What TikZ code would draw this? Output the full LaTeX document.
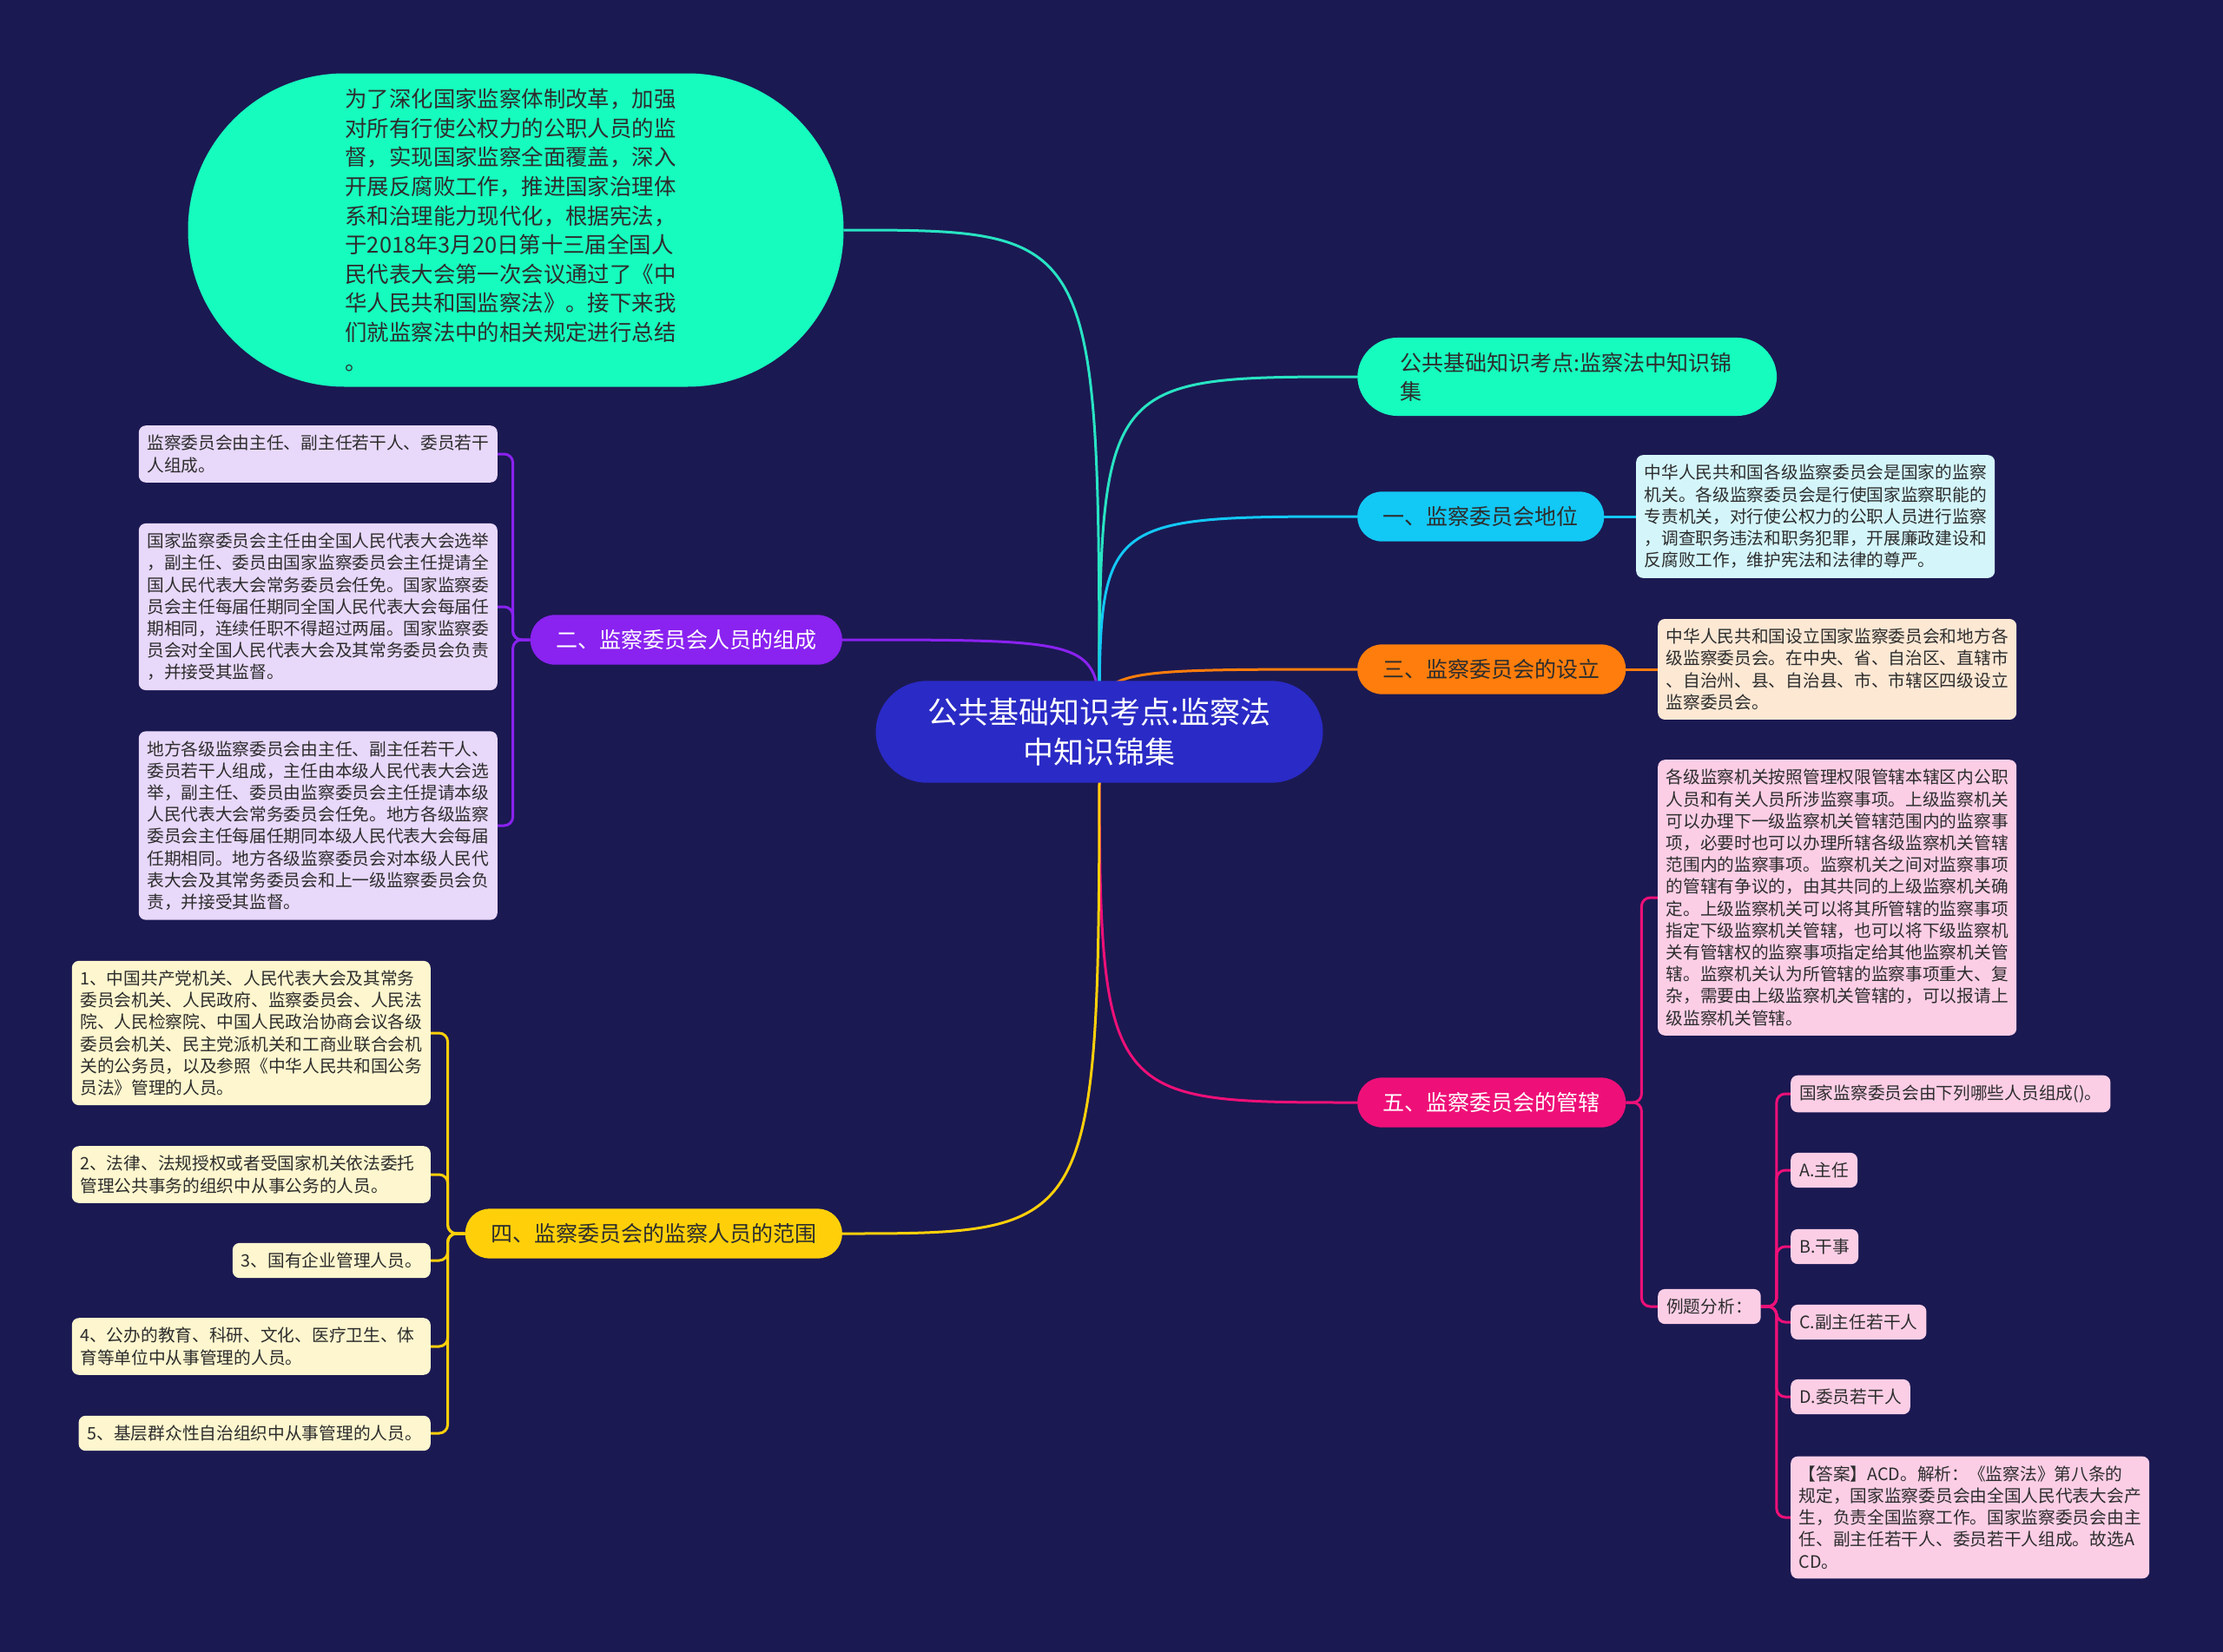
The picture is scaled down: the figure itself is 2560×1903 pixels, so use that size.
\documentclass[tikz,border=0pt]{standalone}
\usepackage{fontspec}
\setmainfont{Noto Sans CJK SC}
\usepackage{tikz}

\definecolor{fond}{RGB}{27,25,82}
\definecolor{encre}{RGB}{45,45,45}
\definecolor{racine}{RGB}{42,42,198}
\definecolor{aqua}{RGB}{22,252,190}
\definecolor{aqualien}{RGB}{40,228,195}
\definecolor{ciel}{RGB}{18,200,245}
\definecolor{orange}{RGB}{255,125,12}
\definecolor{rose}{RGB}{238,16,120}
\definecolor{violet}{RGB}{138,34,240}
\definecolor{jaune}{RGB}{255,208,10}
\definecolor{cielclair}{RGB}{212,246,251}
\definecolor{orangeclair}{RGB}{253,232,212}
\definecolor{roseclair}{RGB}{252,206,230}
\definecolor{violetclair}{RGB}{232,216,250}
\definecolor{jauneclair}{RGB}{253,246,206}

\pgfdeclarelayer{fondcouche}
\pgfsetlayers{fondcouche,main}

\begin{document}
\begin{tikzpicture}[
    x=1pt, y=-1pt,
    every node/.style={text=encre},
    petit/.style={font=\fontsize{19.7pt}{25.2pt}\selectfont},
    carte/.style={petit, rounded corners=8pt, inner xsep=10pt, inner ysep=11pt, align=left},
    feuille/.style={carte, inner xsep=9.5pt, text width=394pt},
    branche/.style={font=\fontsize{25pt}{33pt}\selectfont, rounded corners=28pt, inner xsep=29.5pt, inner ysep=17pt},
    lien/.style={line width=3pt},
    crochet/.style={lien, rounded corners=10pt},
  ]
  % le sujet central
  \node[fill=racine, text=white, rounded corners=59pt, minimum width=515pt, inner ysep=19.5pt,
        align=center, font=\fontsize{35pt}{46pt}\selectfont] (root) at (1266,843)
    {公共基础知识考点:监察法\\中知识锦集};

  \node[fill=aqua, rounded corners=180pt, minimum width=755pt, minimum height=361pt, inner sep=0pt,
        text width=393pt, align=left, font=\fontsize{25.4pt}{33.6pt}\selectfont] (intro) at (594,265)
    {为了深化国家监察体制改革，加强\\对所有行使公权力的公职人员的监\\督，实现国家监察全面覆盖，深入\\开展反腐败工作，推进国家治理体\\系和治理能力现代化，根据宪法，\\于2018年3月20日第十三届全国人\\民代表大会第一次会议通过了《中\\华人民共和国监察法》。接下来我\\们就监察法中的相关规定进行总结\\。};

  \node[branche, fill=aqua, rounded corners=46pt, inner xsep=49.5pt, text width=384pt, align=left,
        anchor=west] (titre) at (1563,434)
    {公共基础知识考点:监察法中知识锦\\集};

  % branches de droite
  \node[branche, fill=ciel, anchor=west] (b1) at (1563,595) {一、监察委员会地位};
  \node[feuille, fill=cielclair, anchor=west] (b1a) at (1884,595)
    {中华人民共和国各级监察委员会是国家的监察\\机关。各级监察委员会是行使国家监察职能的\\专责机关，对行使公权力的公职人员进行监察\\，调查职务违法和职务犯罪，开展廉政建设和\\反腐败工作，维护宪法和法律的尊严。};

  \node[branche, fill=orange, anchor=west] (b3) at (1563,771) {三、监察委员会的设立};
  \node[feuille, fill=orangeclair, anchor=west] (b3a) at (1909,771)
    {中华人民共和国设立国家监察委员会和地方各\\级监察委员会。在中央、省、自治区、直辖市\\、自治州、县、自治县、市、市辖区四级设立\\监察委员会。};

  \node[branche, fill=rose, text=white, anchor=west] (b5) at (1563,1270) {五、监察委员会的管辖};
  \node[feuille, fill=roseclair, anchor=west] (b5a) at (1909,1034)
    {各级监察机关按照管理权限管辖本辖区内公职\\人员和有关人员所涉监察事项。上级监察机关\\可以办理下一级监察机关管辖范围内的监察事\\项，必要时也可以办理所辖各级监察机关管辖\\范围内的监察事项。监察机关之间对监察事项\\的管辖有争议的，由其共同的上级监察机关确\\定。上级监察机关可以将其所管辖的监察事项\\指定下级监察机关管辖，也可以将下级监察机\\关有管辖权的监察事项指定给其他监察机关管\\辖。监察机关认为所管辖的监察事项重大、复\\杂，需要由上级监察机关管辖的，可以报请上\\级监察机关管辖。};
  \node[carte, fill=roseclair, anchor=west] (b5b) at (1909,1505) {例题分析：};

  \node[carte, fill=roseclair, anchor=west] (q0) at (2062,1260) {国家监察委员会由下列哪些人员组成()。};
  \node[carte, fill=roseclair, anchor=west] (qa) at (2062,1348) {A.主任};
  \node[carte, fill=roseclair, anchor=west] (qb) at (2062,1436) {B.干事};
  \node[carte, fill=roseclair, anchor=west] (qc) at (2062,1523) {C.副主任若干人};
  \node[carte, fill=roseclair, anchor=west] (qd) at (2062,1609) {D.委员若干人};
  \node[feuille, fill=roseclair, anchor=west] (qr) at (2062,1748)
    {【答案】ACD。解析：《监察法》第八条的\\规定，国家监察委员会由全国人民代表大会产\\生，负责全国监察工作。国家监察委员会由主\\任、副主任若干人、委员若干人组成。故选A\\CD。};

  % branches de gauche
  \node[branche, fill=violet, text=white, anchor=east] (b2) at (970,737) {二、监察委员会人员的组成};
  \node[feuille, fill=violetclair, anchor=east] (p1) at (573,523)
    {监察委员会由主任、副主任若干人、委员若干\\人组成。};
  \node[feuille, fill=violetclair, anchor=east] (p2) at (573,699)
    {国家监察委员会主任由全国人民代表大会选举\\，副主任、委员由国家监察委员会主任提请全\\国人民代表大会常务委员会任免。国家监察委\\员会主任每届任期同全国人民代表大会每届任\\期相同，连续任职不得超过两届。国家监察委\\员会对全国人民代表大会及其常务委员会负责\\，并接受其监督。};
  \node[feuille, fill=violetclair, anchor=east] (p3) at (573,951)
    {地方各级监察委员会由主任、副主任若干人、\\委员若干人组成，主任由本级人民代表大会选\\举，副主任、委员由监察委员会主任提请本级\\人民代表大会常务委员会任免。地方各级监察\\委员会主任每届任期同本级人民代表大会每届\\任期相同。地方各级监察委员会对本级人民代\\表大会及其常务委员会和上一级监察委员会负\\责，并接受其监督。};

  \node[branche, fill=jaune, anchor=east] (b4) at (970,1421) {四、监察委员会的监察人员的范围};
  \node[feuille, fill=jauneclair, anchor=east] (y1) at (496,1190)
    {1、中国共产党机关、人民代表大会及其常务\\委员会机关、人民政府、监察委员会、人民法\\院、人民检察院、中国人民政治协商会议各级\\委员会机关、民主党派机关和工商业联合会机\\关的公务员，以及参照《中华人民共和国公务\\员法》管理的人员。};
  \node[feuille, fill=jauneclair, anchor=east] (y2) at (496,1353)
    {2、法律、法规授权或者受国家机关依法委托\\管理公共事务的组织中从事公务的人员。};
  \node[carte, fill=jauneclair, anchor=east] (y3) at (496,1452) {3、国有企业管理人员。};
  \node[feuille, fill=jauneclair, anchor=east] (y4) at (496,1551)
    {4、公办的教育、科研、文化、医疗卫生、体\\育等单位中从事管理的人员。};
  \node[carte, fill=jauneclair, anchor=east] (y5) at (496,1651) {5、基层群众性自治组织中从事管理的人员。};

  \begin{pgfonlayer}{fondcouche}
    \fill[fond] (0,0) rectangle (2560,1903);
    % courbes depuis le centre
    \draw[lien, aqualien] (root.center) .. controls (root.center |- intro.east) .. (intro.east);
    \draw[lien, aqualien] (root.center) .. controls (root.center |- titre.west) .. (titre.west);
    \draw[lien, ciel] (root.center) .. controls (root.center |- b1.west) .. (b1.west);
    \draw[lien, orange] (root.center) .. controls (root.center |- b3.west) .. (b3.west);
    \draw[lien, rose] (root.center) .. controls (root.center |- b5.west) .. (b5.west);
    \draw[lien, violet] (root.center) .. controls (root.center |- b2.east) .. (b2.east);
    \draw[lien, jaune] (root.center) .. controls (root.center |- b4.east) .. (b4.east);
    \draw[lien, ciel] (b1.east) -- (b1a.west);
    \draw[lien, orange] (b3.east) -- (b3a.west);
    \foreach \f in {b5a,b5b}
      \draw[crochet, rose] (b5.east) -- ++(18,0) |- (\f.west);
    \foreach \f in {q0,qa,qb,qc,qd,qr}
      \draw[crochet, rose] (b5b.east) -- ++(18,0) |- (\f.west);
    \foreach \f in {p1,p2,p3}
      \draw[crochet, violet] (b2.west) -- ++(-20,0) |- (\f.east);
    \foreach \f in {y1,y2,y3,y4,y5}
      \draw[crochet, jaune] (b4.west) -- ++(-20,0) |- (\f.east);
  \end{pgfonlayer}
\end{tikzpicture}
\end{document}
